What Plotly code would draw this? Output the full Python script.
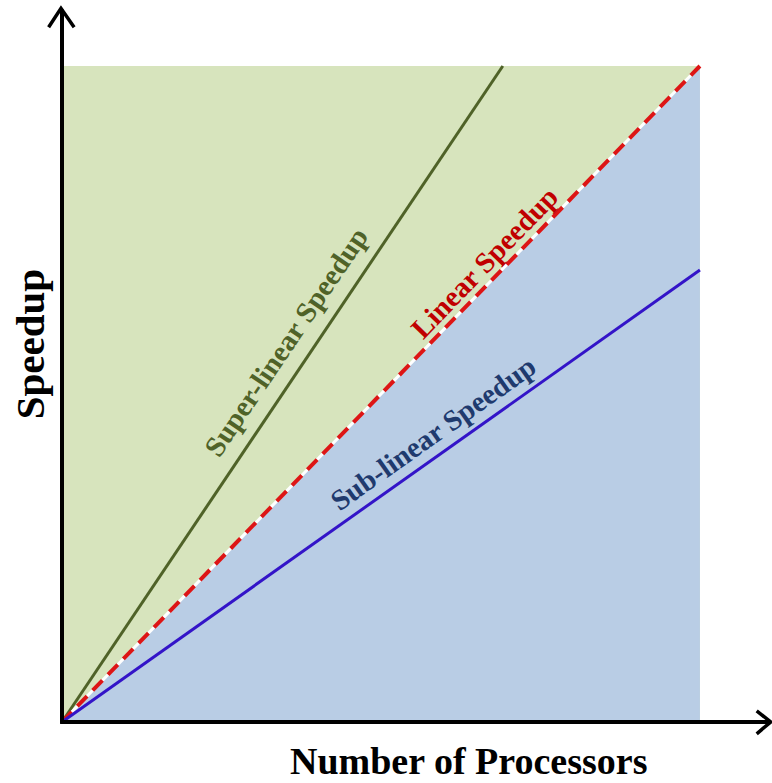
import plotly.graph_objects as go

# Data (processors vs speedup, arbitrary units)
region_x = [0, 10]
region_top = 10
linear_x = [0, 10]
linear_y = [0, 10]
super_x = [0, 6.91]
super_y = [0, 10]
sub_x = [0, 10]
sub_y = [0, 6.89]

labels = ["Super-linear Speedup", "Linear Speedup", "Sub-linear Speedup"]
label_x = [3.51, 6.63, 5.82]
label_y = [5.79, 7.01, 4.41]
label_angle = [-56, -46, -35.3]
label_color = ["#4f6228", "#c00000", "#1f3a6e"]

FONT = "Liberation Serif, Times New Roman, serif"

fig = go.Figure()

# green background region
fig.add_trace(go.Scatter(
    x=[region_x[0], region_x[1], region_x[1], region_x[0], region_x[0]],
    y=[0, 0, region_top, region_top, 0],
    fill="toself", fillcolor="#d7e4bd", line=dict(width=0), mode="lines",
    hoverinfo="skip", showlegend=False))

# blue triangle below linear
fig.add_trace(go.Scatter(
    x=[linear_x[0], linear_x[1], linear_x[1], linear_x[0]],
    y=[linear_y[0], linear_y[1], 0, 0],
    fill="toself", fillcolor="#b9cde5", line=dict(width=0), mode="lines",
    hoverinfo="skip", showlegend=False))

# super-linear
fig.add_trace(go.Scatter(x=super_x, y=super_y, mode="lines",
                         line=dict(color="#4f6228", width=3), showlegend=False))
# linear (white underlay + red dashes)
fig.add_trace(go.Scatter(x=linear_x, y=linear_y, mode="lines",
                         line=dict(color="white", width=3), showlegend=False))
fig.add_trace(go.Scatter(x=linear_x, y=linear_y, mode="lines",
                         line=dict(color="#dd1515", width=4, dash="14px,8px"),
                         showlegend=False))
# sub-linear
fig.add_trace(go.Scatter(x=sub_x, y=sub_y, mode="lines",
                         line=dict(color="#3314c8", width=3), showlegend=False))

# axes with arrows
fig.add_trace(go.Scatter(x=[0, 0], y=[-0.02, 10.86], mode="lines",
                         line=dict(color="black", width=4), showlegend=False))
fig.add_trace(go.Scatter(x=[-0.03, 11.09], y=[0, 0], mode="lines",
                         line=dict(color="black", width=4), showlegend=False))
fig.add_trace(go.Scatter(x=[-0.21, -0.016, 0.19], y=[10.59, 10.88, 10.59], mode="lines",
                         line=dict(color="black", width=3.5), showlegend=False))
fig.add_trace(go.Scatter(x=[10.89, 11.11, 10.89], y=[0.17, 0, -0.18], mode="lines",
                         line=dict(color="black", width=3.5), showlegend=False))

for t, x, y, a, c in zip(labels, label_x, label_y, label_angle, label_color):
    fig.add_annotation(x=x, y=y, text="<b>%s</b>" % t, textangle=a, showarrow=False,
                       font=dict(family=FONT, size=29, color=c))

fig.add_annotation(x=6.38, y=-0.925, yanchor="bottom", text="<b>Number of Processors</b>",
                   showarrow=False, borderpad=0,
                   font=dict(family=FONT, size=38, color="black"))
fig.add_annotation(x=-0.50, y=5.76, text="<b>Speedup</b>", showarrow=False, textangle=-90,
                   font=dict(family=FONT, size=41, color="black"))

fig.update_xaxes(range=[-0.972, 11.13], visible=False, fixedrange=True)
fig.update_yaxes(range=[-0.930, 11.006], visible=False, fixedrange=True)
fig.update_layout(width=772, height=783, margin=dict(l=0, r=0, t=0, b=0),
                  plot_bgcolor="white", paper_bgcolor="white", showlegend=False)

fig.write_html("out.html", config={"displayModeBar": False},
               post_script="document.body.style.margin='0';")
